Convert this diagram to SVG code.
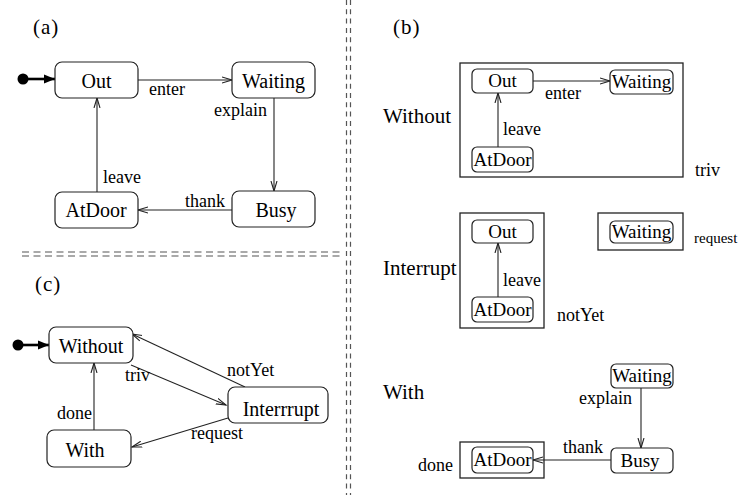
<svg xmlns="http://www.w3.org/2000/svg" width="738" height="495" viewBox="0 0 738 495">
<defs>
<style>
text{font-family:"Liberation Serif","Times New Roman",serif;fill:#000}
.n{font-size:20px;text-anchor:middle}
.nb{font-size:21px}
.ni{font-size:19px;text-anchor:middle}
.e{font-size:18px}
.st{fill:#fff;stroke:#222;stroke-width:1.2}
.box{fill:none;stroke:#222;stroke-width:1.3}
.c{fill:none;stroke:#222;stroke-width:1.1;marker-end:url(#ah)}
.init{fill:none;stroke:#000;stroke-width:2.6;marker-end:url(#ih)}
.sep{fill:none;stroke:#555;stroke-width:1.2}
</style>
<marker id="ah" markerUnits="userSpaceOnUse" markerWidth="12" markerHeight="8" refX="10" refY="3" orient="auto" viewBox="0 0 12 6">
<path d="M0,0 L10,3 L0,6" fill="none" stroke="#222" stroke-width="1.1"/>
</marker>
<marker id="ih" markerUnits="userSpaceOnUse" markerWidth="12" markerHeight="10" refX="11" refY="4.5" orient="auto" viewBox="0 0 12 9">
<path d="M0,0 L11,4.5 L0,9 Z" fill="#000"/>
</marker>
</defs>

<g id="separators">
<line class="sep" x1="346.5" y1="0" x2="346.5" y2="495" stroke-dasharray="5 4.3"/>
<line class="sep" x1="350.5" y1="0" x2="350.5" y2="495" stroke-dasharray="5 4.3"/>
<line class="sep" x1="22" y1="252" x2="342" y2="252" stroke-dasharray="7 4.5"/>
<line class="sep" x1="22" y1="256" x2="342" y2="256" stroke-dasharray="7 4.5"/>
</g>

<g id="labels">
<text x="33" y="34" font-size="21" letter-spacing="1">(a)</text>
<text x="35" y="291" font-size="21" letter-spacing="1">(c)</text>
<text x="393" y="34" font-size="21" letter-spacing="1">(b)</text>
</g>

<!-- Panel (a) -->
<g id="connectors-a">
<circle cx="23" cy="79" r="5.5" fill="#000"/>
<line class="init" x1="24" y1="79" x2="55" y2="79"/>
<line class="c" x1="138" y1="80" x2="232" y2="80"/>
<line class="c" x1="274" y1="98" x2="274" y2="191"/>
<line class="c" x1="232" y1="210" x2="138" y2="210"/>
<line class="c" x1="97" y1="192" x2="97" y2="98"/>
<text class="e" x="149" y="95">enter</text>
<text class="e" x="214" y="116">explain</text>
<text class="e" x="185" y="207">thank</text>
<text class="e" x="103" y="183">leave</text>
</g>
<g id="a-out"><rect class="st" x="55" y="62" width="83" height="36" rx="7"/><text class="n" x="96.5" y="88">Out</text></g>
<g id="a-waiting"><rect class="st" x="232" y="62" width="83" height="36" rx="7"/><text class="n" x="273.5" y="88">Waiting</text></g>
<g id="a-busy"><rect class="st" x="232" y="191" width="83" height="36" rx="7"/><text class="n" x="276" y="217">Busy</text></g>
<g id="a-atdoor"><rect class="st" x="55" y="192" width="83" height="36" rx="7"/><text class="n" x="96" y="217">AtDoor</text></g>

<!-- Panel (c) -->
<g id="connectors-c">
<circle cx="18" cy="345" r="5.5" fill="#000"/>
<line class="init" x1="19" y1="345" x2="49" y2="345"/>
<line class="c" x1="131" y1="365" x2="226" y2="405"/>
<line class="c" x1="245" y1="387" x2="132" y2="334"/>
<line class="c" x1="228" y1="418" x2="132" y2="447"/>
<line class="c" x1="94" y1="430" x2="94" y2="363"/>
<text class="e" x="125" y="381">triv</text>
<text class="e" x="227" y="376">notYet</text>
<text class="e" x="191" y="439">request</text>
<text class="e" x="57" y="419">done</text>
</g>
<g id="c-without"><rect class="st" x="49" y="327" width="84" height="36" rx="7"/><text class="n" x="91" y="353" font-size="21">Without</text></g>
<g id="c-interrupt"><rect class="st" x="228" y="387" width="100" height="36" rx="7"/><text class="n" x="281" y="416" font-size="21">Interrrupt</text></g>
<g id="c-with"><rect class="st" x="47" y="430" width="84" height="37" rx="7"/><text class="n" x="85" y="457" font-size="21">With</text></g>

<!-- Panel (b) -->
<g id="b-without">
<text class="nb" x="383" y="123">Without</text>
<rect class="box" x="460" y="63" width="223" height="114"/>
<text class="e" x="695" y="176">triv</text>
</g>
<g id="b-interrupt">
<text class="nb" x="383" y="275">Interrupt</text>
<rect class="box" x="460" y="213" width="84" height="115"/>
<text class="e" x="557" y="321">notYet</text>
</g>
<g id="b-waiting-box">
<rect class="box" x="598" y="213" width="85" height="37"/>
<text x="694" y="243" font-size="15">request</text>
</g>
<g id="b-with">
<text class="nb" x="383" y="399">With</text>
<rect class="box" x="460" y="442" width="84" height="36"/>
<text class="e" x="418" y="471">done</text>
</g>

<g id="connectors-b">
<line class="c" x1="533" y1="81" x2="610" y2="81"/>
<line class="c" x1="498" y1="147" x2="498" y2="93"/>
<line class="c" x1="498" y1="297" x2="498" y2="243"/>
<line class="c" x1="641" y1="388" x2="641" y2="448"/>
<line class="c" x1="611" y1="460" x2="533" y2="460"/>
<text class="e" x="545" y="99">enter</text>
<text class="e" x="503" y="135">leave</text>
<text class="e" x="503" y="286">leave</text>
<text class="e" x="579" y="404">explain</text>
<text class="e" x="563" y="453">thank</text>
</g>

<g id="b1-out"><rect class="st" x="472" y="69" width="61" height="24" rx="5"/><text class="ni" x="502.5" y="87">Out</text></g>
<g id="b1-waiting"><rect class="st" x="610" y="70" width="63" height="24" rx="5"/><text class="ni" x="641.5" y="88">Waiting</text></g>
<g id="b1-atdoor"><rect class="st" x="472" y="147" width="61" height="25" rx="5"/><text class="ni" x="502.5" y="166">AtDoor</text></g>

<g id="b2-out"><rect class="st" x="472" y="220" width="61" height="23" rx="5"/><text class="ni" x="502.5" y="238">Out</text></g>
<g id="b2-atdoor"><rect class="st" x="472" y="297" width="61" height="25" rx="5"/><text class="ni" x="502.5" y="316">AtDoor</text></g>
<g id="b2-waiting"><rect class="st" x="610" y="221" width="63" height="22" rx="5"/><text class="ni" x="641.5" y="238">Waiting</text></g>

<g id="b3-waiting"><rect class="st" x="611" y="364" width="62" height="24" rx="5"/><text class="ni" x="642" y="382">Waiting</text></g>
<g id="b3-busy"><rect class="st" x="611" y="448" width="62" height="25" rx="5"/><text class="ni" x="640" y="467">Busy</text></g>
<g id="b3-atdoor"><rect class="st" x="472" y="447" width="61" height="26" rx="5"/><text class="ni" x="502.5" y="466">AtDoor</text></g>
</svg>
